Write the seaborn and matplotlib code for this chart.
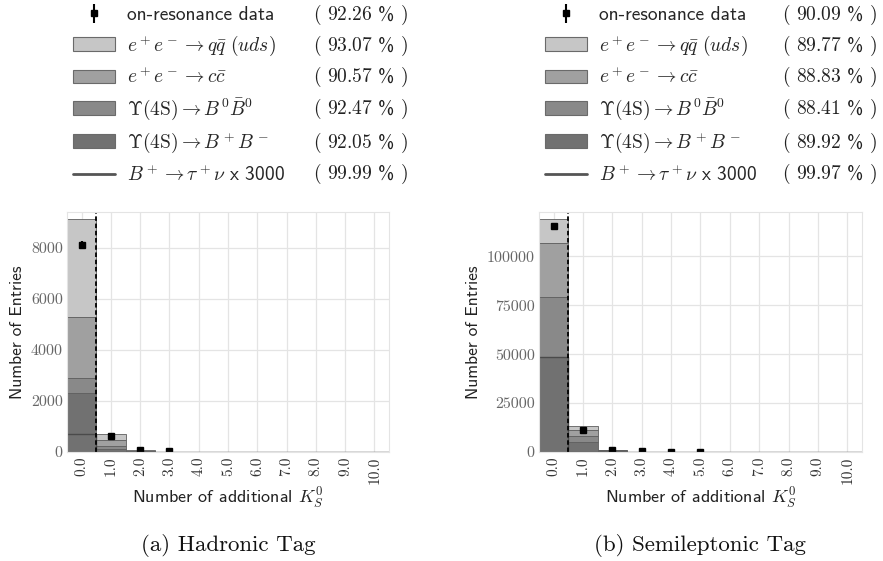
import matplotlib
matplotlib.use("Agg")
import matplotlib.pyplot as plt
from matplotlib.patches import Patch
from matplotlib.lines import Line2D
import numpy as np
import pandas as pd
import seaborn as sns

# --- data ---
k_bins = list(range(11))
x_ticklabels = ["0.0", "1.0", "2.0", "3.0", "4.0", "5.0", "6.0", "7.0", "8.0", "9.0", "10.0"]
processes = ["uds", "cc", "B0", "Bp"]

# hadronic tag (stack: B+B- bottom, then B0B0, cc, uds)
had_bp = [2330, 130, 20, 3, 0, 0, 0, 0, 0, 0, 0]
had_b0 = [560, 90, 15, 1, 0, 0, 0, 0, 0, 0, 0]
had_cc = [2390, 260, 20, 1, 0, 0, 0, 0, 0, 0, 0]
had_uds = [3830, 240, 15, 1, 0, 0, 0, 0, 0, 0, 0]
had_sig = [690, 0, 0, 0, 0, 0, 0, 0, 0, 0, 0]
had_data = [8110, 620, 75, 40, np.nan, np.nan, np.nan, np.nan, np.nan, np.nan, np.nan]
had_err = [160, 40, 15, 10, 0, 0, 0, 0, 0, 0, 0]
had_yticks = [0, 2000, 4000, 6000, 8000]
had_pct = ["92.26", "93.07", "90.57", "92.47", "92.05", "99.99"]

# semileptonic tag
sl_bp = [48700, 5000, 400, 30, 5, 0, 0, 0, 0, 0, 0]
sl_b0 = [30700, 3000, 300, 20, 5, 0, 0, 0, 0, 0, 0]
sl_cc = [27300, 3100, 250, 10, 2, 0, 0, 0, 0, 0, 0]
sl_uds = [12300, 2000, 150, 5, 1, 0, 0, 0, 0, 0, 0]
sl_sig = [48500, 0, 0, 0, 0, 0, 0, 0, 0, 0, 0]
sl_data = [115600, 11400, 1200, 300, 250, 200, np.nan, np.nan, np.nan, np.nan, np.nan]
sl_err = [1500, 500, 150, 80, 60, 60, 0, 0, 0, 0, 0]
sl_yticks = [0, 25000, 50000, 75000, 100000]
sl_pct = ["90.09", "89.77", "88.83", "88.41", "89.92", "99.97"]

colors = {"uds": "#c6c6c6", "cc": "#a0a0a0", "B0": "#898989", "Bp": "#717171"}
labels = [
    "on-resonance data",
    r"$e^+e^- \to q\bar{q}\ (uds)$",
    r"$e^+e^- \to c\bar{c}$",
    r"$\Upsilon(4\mathrm{S}) \to B^0\bar{B}^0$",
    r"$\Upsilon(4\mathrm{S}) \to B^+B^-$",
    r"$B^+ \to \tau^+\nu$ x 3000",
]

sns.set_style("whitegrid")
plt.rcParams["font.family"] = ["cmss10", "DejaVu Sans"]
plt.rcParams["mathtext.fontset"] = "cm"
plt.rcParams["axes.unicode_minus"] = False
plt.rcParams["axes.formatter.use_mathtext"] = True

fig = plt.figure(figsize=(8.83, 5.61), dpi=100)
ax1 = fig.add_axes([0.0759, 0.1943, 0.3647, 0.4278])
ax2 = fig.add_axes([0.6104, 0.1943, 0.3658, 0.4278])


def panel(ax, stacks, sig, data, err, yticks, ytop, pct, leg_x, pct_x, caption):
    df = pd.concat([
        pd.DataFrame({"k": k_bins, "w": vals, "proc": p})
        for p, vals in zip(processes, stacks)
    ])
    sns.histplot(data=df, x="k", weights="w", hue="proc", hue_order=processes,
                 palette=colors, multiple="stack", discrete=True, shrink=1,
                 alpha=1, edgecolor="#5e5e5e", linewidth=0.6, legend=False, ax=ax)
    sns.histplot(x=k_bins, weights=sig, discrete=True, element="step", fill=False,
                 color="#4a4a4a", linewidth=1.0, ax=ax)
    eb = ax.errorbar(k_bins, data, yerr=err, fmt="s", color="black",
                     markersize=4.5, elinewidth=1.5, capsize=0)
    ax.axvline(0.5, color="black", linestyle="--", linewidth=1.3, dashes=(2.5, 1.5))

    ax.set_xlim(-0.5, 10.5)
    ax.set_ylim(0, ytop)
    ax.set_xticks(k_bins)
    ax.set_xticklabels(x_ticklabels, rotation=90, fontfamily="cmr10",
                       fontsize=11, color="#333333")
    ax.set_yticks(yticks)
    ax.set_yticklabels([str(v) for v in yticks], fontfamily="cmr10",
                       fontsize=11.5, color="#666666")
    ax.tick_params(axis="both", length=0, pad=3)
    ax.grid(True, color="#e4e4e4", linewidth=0.9)
    ax.set_axisbelow(True)
    for s in ax.spines.values():
        s.set_color("#e4e4e4")
    ax.set_xlabel(r"Number of additional $K_S^0$", fontsize=13, color="#222222", labelpad=2)
    ax.set_ylabel("Number of Entries", fontsize=12.5, color="#222222", labelpad=4)

    handles = [eb] + [Patch(facecolor=colors[p], edgecolor="#6a6a6a", linewidth=0.8)
                      for p in processes] + [Line2D([], [], color="#555555", linewidth=2)]
    leg = fig.legend(handles, labels, loc="upper left", bbox_to_anchor=(leg_x, 0.989),
                     frameon=False, fontsize=14, handlelength=2.15, handleheight=0.72,
                     handletextpad=0.62, labelspacing=0.46, borderpad=0, borderaxespad=0)
    fig.canvas.draw()
    inv = fig.transFigure.inverted()
    for t, p in zip(leg.get_texts(), pct):
        bb = t.get_window_extent()
        yc = inv.transform((0, (bb.y0 + bb.y1) / 2))[1]
        fig.text(pct_x, yc, r"$($ $" + p + r"$ % $)$", fontsize=14,
                 va="center", ha="left", color="#222222")
    pos = ax.get_position()
    fig.text((pos.x0 + pos.x1) / 2, 0.028, caption, fontfamily="cmr10",
             fontsize=16.5, ha="center", va="center", color="#111111")


panel(ax1, [had_uds, had_cc, had_b0, had_bp], had_sig, had_data, had_err,
      had_yticks, 9400, had_pct, 0.083, 0.354, "(a) Hadronic Tag")
panel(ax2, [sl_uds, sl_cc, sl_b0, sl_bp], sl_sig, sl_data, sl_err,
      sl_yticks, 122700, sl_pct, 0.617, 0.886, "(b) Semileptonic Tag")

fig.savefig("out.png", dpi=100)
